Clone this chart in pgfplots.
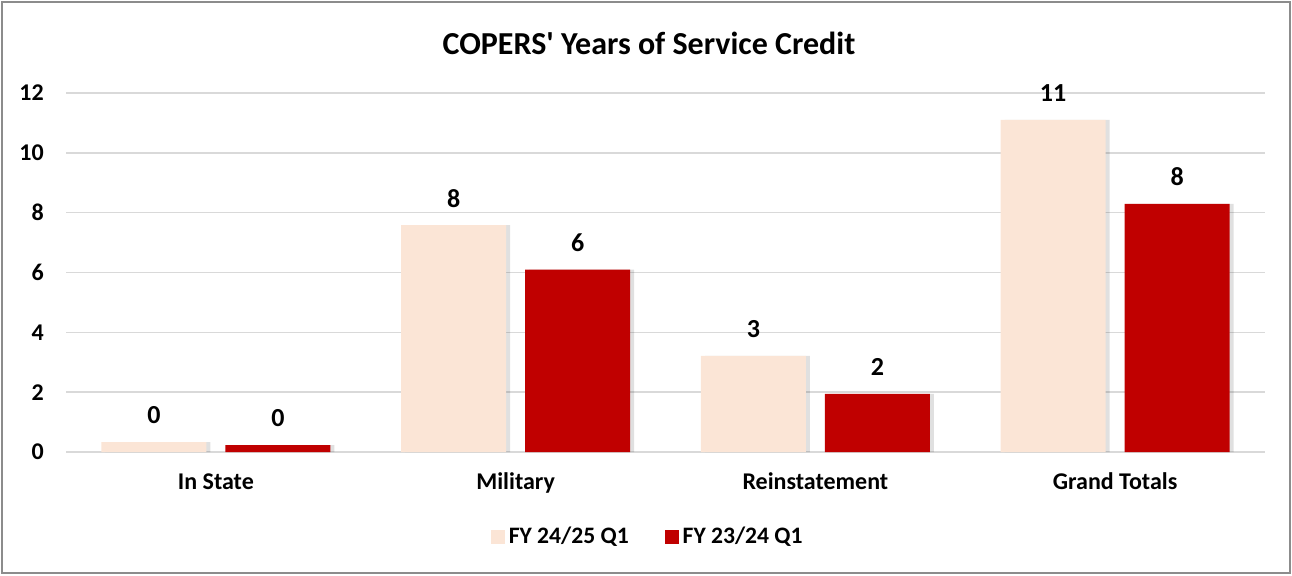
\documentclass[border=0pt]{standalone}
\usepackage{fontspec}
\setmainfont{Carlito}
\usepackage{pgfplots}
\pgfplotsset{compat=1.18}

\definecolor{peach}{HTML}{FBE5D6}
\definecolor{darkred}{HTML}{C00000}
\definecolor{gridgray}{HTML}{D9D9D9}
\definecolor{framegray}{HTML}{8C8C8C}

\pgfplotstableread{
x  cur   prev
0  0.33  0.23
1  7.58  6.10
2  3.21  1.94
3  11.10 8.29
}\creditdata

\begin{document}
\begin{tikzpicture}
\useasboundingbox (0pt,0pt) rectangle (646pt,287.5pt);
\draw[framegray, line width=1pt] (1pt,1pt) rectangle (645pt,286.5pt);
\node[font=\bfseries\fontsize{16}{19}\selectfont] at (324.5pt,266pt) {COPERS\textquotesingle{} Years of Service Credit};
\begin{axis}[
  at={(33pt,61.5pt)}, anchor=south west,
  scale only axis, width=599.5pt, height=179.5pt,
  ybar, bar width=52.5pt,
  xmin=-0.5, xmax=3.5,
  ymin=0, ymax=12,
  xtick={0,1,2,3},
  xticklabels={In State, Military, Reinstatement, Grand Totals},
  ytick={0,2,4,6,8,10,12},
  ymajorgrids=true,
  grid style={gridgray, line width=0.8pt},
  axis line style={draw=none},
  major tick length=0pt,
  /pgf/number format/assume math mode=true,
  /pgf/number format/fixed,
  /pgf/number format/precision=0,
  tick label style={font=\bfseries\fontsize{12}{14}\selectfont},
  xticklabel style={anchor=base, yshift=-18.5pt},
  yticklabel style={anchor=east, xshift=-7.6pt},
  nodes near coords,
  every node near coord/.append style={anchor=center, yshift=13.5pt,
    font=\bfseries\fontsize{13}{15}\selectfont, text=black},
  legend columns=2,
  legend style={at={(0.486,-0.2368)}, anchor=center, draw=none, fill=none,
    font=\bfseries\fontsize{11.8}{14}\selectfont,
    /tikz/every even column/.append style={column sep=16pt}},
  legend image code/.code={\fill[#1] (0pt,-3.5pt) rectangle (7pt,3.5pt);},
  clip=false,
]
% soft shadows behind bars
\addplot[forget plot, draw=none, fill=black, opacity=0.12, bar shift=-29pt, nodes near coords={}]
  table[x=x, y=cur] {\creditdata};
\addplot[forget plot, draw=none, fill=black, opacity=0.12, bar shift=33pt, nodes near coords={}]
  table[x=x, y=prev] {\creditdata};
\addplot[draw=none, fill=peach, bar shift=-31pt] table[x=x, y=cur] {\creditdata};
\addlegendentry{FY 24/25 Q1}
\addplot[draw=none, fill=darkred, bar shift=31pt] table[x=x, y=prev] {\creditdata};
\addlegendentry{FY 23/24 Q1}
\end{axis}
\end{tikzpicture}
\end{document}
